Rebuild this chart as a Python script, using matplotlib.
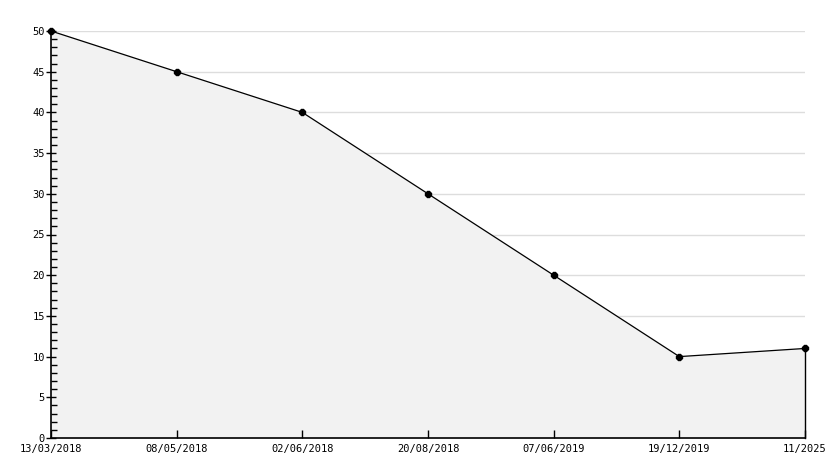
import matplotlib
matplotlib.use('Agg')
import matplotlib.pyplot as plt
from matplotlib.ticker import MultipleLocator

# data
dates = ['13/03/2018', '08/05/2018', '02/06/2018', '20/08/2018',
         '07/06/2019', '19/12/2019', '11/2025']
values = [50, 45, 40, 30, 20, 10, 11]
grid_levels = [5, 10, 15, 20, 25, 30, 35, 40, 45, 50]

plt.rcParams['font.family'] = 'DejaVu Sans Mono'

fig = plt.figure(figsize=(8.34, 4.68), dpi=100)
ax = fig.add_axes([51 / 834, 30 / 468, 754 / 834, 407 / 468])

x = list(range(len(values)))

# grid behind the fill, ticks above it
for g in grid_levels:
    ax.axhline(g, color='#dddddd', linewidth=1, zorder=0)
ax.fill_between(x, values, 0, color='#f2f2f2', zorder=1)
ax.plot([x[-1], x[-1]], [0, values[-1]], color='black', linewidth=1, zorder=2, clip_on=False)
ax.plot(x, values, color='black', linewidth=0.9, marker='8', markersize=4,
        zorder=3, clip_on=False)

ax.set_xlim(0, len(values) - 1)
ax.set_ylim(0, 50)
ax.set_xticks(x)
ax.set_xticklabels(dates, fontsize=7.5)
ax.yaxis.set_major_locator(MultipleLocator(5))
ax.yaxis.set_minor_locator(MultipleLocator(1))
ax.tick_params(axis='y', which='major', direction='inout', length=7, width=1, labelsize=7.5, pad=1)
ax.tick_params(axis='y', which='minor', direction='in', length=4, width=1)
ax.tick_params(axis='x', which='major', direction='in', length=6, width=1, pad=4)

for s in ['top', 'right']:
    ax.spines[s].set_visible(False)
for s in ['left', 'bottom']:
    ax.spines[s].set_linewidth(1.2)
    ax.spines[s].set_zorder(4)

fig.savefig('out.png', dpi=100)
